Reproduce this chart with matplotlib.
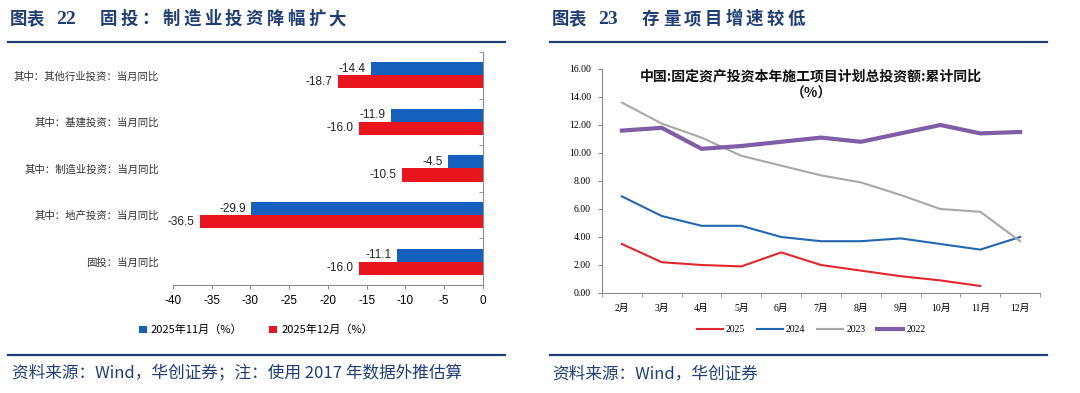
import numpy as np
import matplotlib
matplotlib.use("Agg")
import matplotlib.pyplot as plt
from matplotlib.lines import Line2D

plt.rcParams['font.family'] = ['Noto Sans CJK SC', 'DejaVu Sans']
plt.rcParams['axes.unicode_minus'] = False

# ---------------- data ----------------
bar_cats = ['其中：其他行业投资：当月同比', '其中：基建投资：当月同比', '其中：制造业投资：当月同比',
            '其中：地产投资：当月同比', '固投：当月同比']
nov_2025 = [-14.4, -11.9, -4.5, -29.9, -11.1]
dec_2025 = [-18.7, -16.0, -10.5, -36.5, -16.0]
bar_series_names = ['2025年11月（%）', '2025年12月（%）']

months = ['2月', '3月', '4月', '5月', '6月', '7月', '8月', '9月', '10月', '11月', '12月']
y2025 = [3.5, 2.2, 2.0, 1.9, 2.9, 2.0, 1.6, 1.2, 0.9, 0.5]
y2024 = [6.9, 5.5, 4.8, 4.8, 4.0, 3.7, 3.7, 3.9, 3.5, 3.1, 4.0]
y2023 = [13.6, 12.1, 11.1, 9.8, 9.1, 8.4, 7.9, 7.0, 6.0, 5.8, 3.7]
y2022 = [11.6, 11.8, 10.3, 10.5, 10.8, 11.1, 10.8, 11.4, 12.0, 11.4, 11.5]

navy = '#1F3F74'
axis_gray = '#8C8C8C'
serif = ['Liberation Serif', 'Noto Sans CJK SC']
sans = ['Liberation Sans', 'Noto Sans CJK SC']

fig = plt.figure(figsize=(10.8, 3.93), dpi=100)
W, H = 1080, 393

def fx(px):
    return px / W

def fy(py):
    return 1 - py / H

def spaced(x0, ypx, s, step, **kw):
    # header text in the report is letter-spaced
    for i, ch in enumerate(s):
        fig.text(fx(x0 + i * step), fy(ypx), ch, va='center', **kw)

# ---------------- headers / footers ----------------
for x0, num, title in [(10, '22', '固投：制造业投资降幅扩大'), (552, '23', '存量项目增速较低')]:
    spaced(x0, 19, '图表', 16.5, fontsize=12.5, fontweight='bold', color=navy)
    fig.text(fx(x0 + 46), fy(19), num, fontsize=14, fontweight='bold', color=navy, va='center',
             family='Liberation Serif')
    spaced(x0 + 90, 19, title, 20.8, fontsize=12.5, fontweight='bold', color=navy)

for x0, x1 in [(8, 505), (550, 1047)]:
    fig.add_artist(Line2D([fx(x0), fx(x1)], [fy(42), fy(42)], color=navy, lw=1.6))
    fig.add_artist(Line2D([fx(x0), fx(x1)], [fy(355), fy(355)], color=navy, lw=1.6))

fig.text(fx(12), fy(374), '资料来源：Wind，华创证券；注：使用 2017 年数据外推估算', fontsize=12,
         color=navy, va='center', style='italic')
fig.text(fx(552), fy(374), '资料来源：Wind，华创证券', fontsize=12, color=navy, va='center',
         style='italic')

# ---------------- left: bar chart ----------------
ax1 = fig.add_axes([fx(173), fy(285), fx(483 - 173), (285 - 52) / H])
y = np.arange(len(bar_cats))
h = 0.28
b1 = ax1.barh(y - h / 2, nov_2025, height=h, color='#1560BD', label=bar_series_names[0])
b2 = ax1.barh(y + h / 2, dec_2025, height=h, color='#E8141E', label=bar_series_names[1])
ax1.bar_label(b1, fmt='%.1f', padding=4, fontsize=8.5, family=sans, color='#222222')
ax1.bar_label(b2, fmt='%.1f', padding=4, fontsize=8.5, family=sans, color='#222222')
ax1.set_xlim(-40, 0)
ax1.set_ylim(len(bar_cats) - 0.5, -0.5)
ax1.set_xticks(np.arange(-40, 1, 5))
ax1.tick_params(axis='x', labelsize=8.5, length=3, color=axis_gray, pad=4)
for lab in ax1.get_xticklabels():
    lab.set_family(sans)
ax1.set_yticks(y)
ax1.set_yticklabels(bar_cats, fontsize=7.5, color='#333333')
ax1.tick_params(axis='y', which='major', length=0, pad=10)
ax1.set_yticks(np.arange(-0.5, len(bar_cats)), minor=True)
ax1.tick_params(axis='y', which='minor', left=False, right=True, direction='in', length=3,
                color=axis_gray)
for s in ['top', 'left']:
    ax1.spines[s].set_visible(False)
for s in ['bottom', 'right']:
    ax1.spines[s].set_color(axis_gray)
fig.legend(handles=[b1, b2], loc='center', bbox_to_anchor=(fx(256), fy(330)), ncol=2,
           frameon=False, fontsize=8, handlelength=0.7, handleheight=0.7, handletextpad=0.4,
           columnspacing=2.4)

# ---------------- right: line chart ----------------
ax2 = fig.add_axes([fx(602), fy(293), fx(1040 - 602), (293 - 69) / H])
x = np.arange(len(months))
ax2.plot(x[:len(y2025)], y2025, color='#E0272B', lw=1.5, label='2025')
ax2.plot(x, y2024, color='#2466B0', lw=1.5, label='2024')
ax2.plot(x, y2023, color='#A8A8A8', lw=1.5, label='2023')
ax2.plot(x, y2022, color='#7E5EA6', lw=3.0, label='2022')
ax2.set_xlim(-0.5, len(months) - 0.5)
ax2.set_ylim(0, 16)
ax2.set_yticks(np.arange(0, 16.1, 2))
ax2.set_yticklabels(['%.2f' % v for v in np.arange(0, 16.1, 2)], family=serif, fontsize=7)
ax2.set_xticks(x)
ax2.set_xticklabels(months, family=serif, fontsize=7)
ax2.tick_params(axis='x', which='major', length=0, pad=8)
ax2.set_xticks(np.arange(-0.5, len(months)), minor=True)
ax2.tick_params(axis='x', which='minor', length=3, color=axis_gray)
ax2.tick_params(axis='y', length=3, color=axis_gray, pad=5)
for s in ['top', 'right']:
    ax2.spines[s].set_visible(False)
for s in ['bottom', 'left']:
    ax2.spines[s].set_color(axis_gray)
fig.text(fx(811), fy(76), '中国:固定资产投资本年施工项目计划总投资额:累计同比', fontsize=10,
         fontweight='bold', ha='center', va='center', color='#111111')
fig.text(fx(811), fy(94), '（%）', fontsize=10, fontweight='bold', ha='center', va='center',
         color='#111111')
fig.legend(handles=ax2.get_lines(), loc='center', bbox_to_anchor=(fx(811), fy(330)), ncol=4,
           frameon=False, handlelength=2.7, handletextpad=0.3,
           columnspacing=1.2, prop={'family': serif, 'size': 7})

fig.savefig('out.png', dpi=100)
